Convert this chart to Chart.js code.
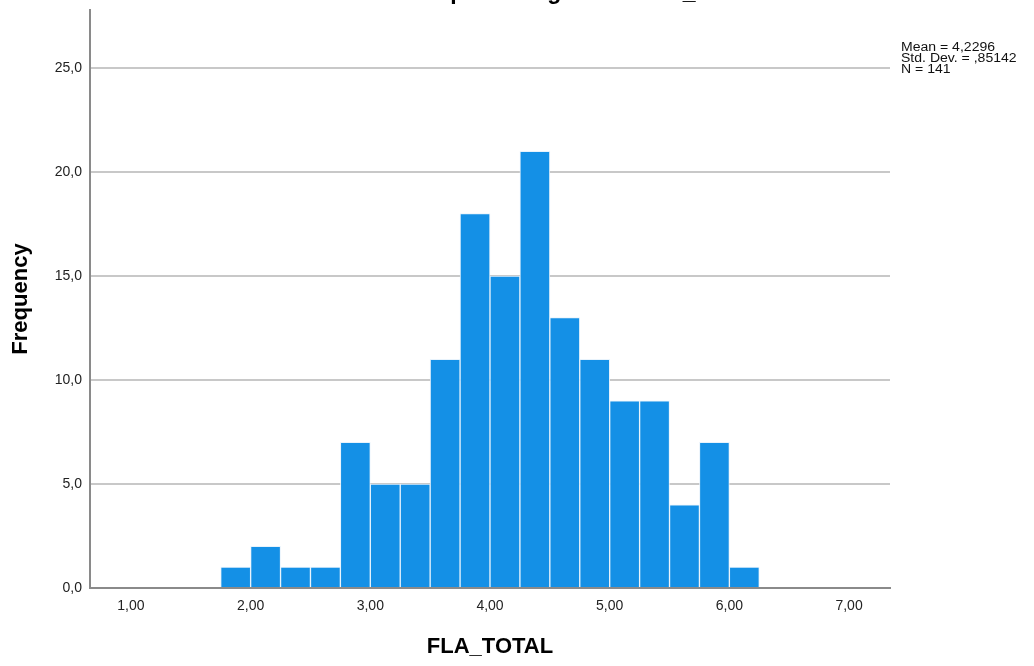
<!DOCTYPE html>
<html>
<head>
<meta charset="utf-8">
<script src="https://cdn.jsdelivr.net/npm/chart.js@4/dist/chart.umd.min.js"></script>
<style>
  html, body { margin: 0; padding: 0; background: #fff; }
  #wrap { width: 1034px; height: 666px; position: relative; }
</style>
</head>
<body>
<div id="wrap"><canvas id="hist"></canvas></div>
<script>
// Histogram of FLA_TOTAL, bins of width 0.25
const binCenters = [1.875, 2.125, 2.375, 2.625, 2.875, 3.125, 3.375, 3.625, 3.875,
                    4.125, 4.375, 4.625, 4.875, 5.125, 5.375, 5.625, 5.875, 6.125];
const frequencies = [1, 2, 1, 1, 7, 5, 5, 11, 18, 15, 21, 13, 11, 9, 9, 4, 7, 1];

const xTickValues = [1, 2, 3, 4, 5, 6, 7];
const xTickLabels = ['1,00', '2,00', '3,00', '4,00', '5,00', '6,00', '7,00'];
const yTickValues = [0, 5, 10, 15, 20, 25];
const yTickLabels = ['0,0', '5,0', '10,0', '15,0', '20,0', '25,0'];

const statsLines = ['Mean = 4,2296', 'Std. Dev. = ,85142', 'N = 141'];
const chartTitle = 'Simple Histogram of FLA_TOTAL';

const FONT = '"Liberation Sans", Arial, sans-serif';

// title sits mostly above the canvas, stats block at right
const extrasPlugin = {
  id: 'extras',
  afterDraw(chart) {
    const ctx = chart.ctx;
    ctx.save();
    ctx.fillStyle = '#000';
    ctx.font = 'bold 23px ' + FONT;
    ctx.textAlign = 'left';
    ctx.textBaseline = 'alphabetic';
    ctx.fillText(chartTitle, 408, -1);
    ctx.restore();

    // SPSS stats text is a bit wide for its height
    ctx.save();
    ctx.font = '12px ' + FONT;
    ctx.fillStyle = '#111';
    ctx.textAlign = 'left';
    ctx.textBaseline = 'middle';
    ctx.translate(901, 0);
    ctx.scale(1.17, 1);
    statsLines.forEach((line, i) => {
      ctx.fillText(line, 0, 47.5 + i * 11);
    });
    ctx.restore();
  }
};

const data = binCenters.map((x, i) => ({ x: x, y: frequencies[i] }));

new Chart(document.getElementById('hist'), {
  type: 'bar',
  data: {
    datasets: [{
      data: data,
      backgroundColor: '#1490e6',
      borderColor: 'rgba(230, 242, 252, 0.9)',
      borderWidth: 1,
      barPercentage: 1,
      categoryPercentage: 1
    }]
  },
  options: {
    responsive: true,
    maintainAspectRatio: false,
    animation: false,
    layout: { padding: { left: 0, top: 10, right: 144, bottom: 0 } },
    plugins: {
      legend: { display: false },
      tooltip: { enabled: false }
    },
    scales: {
      x: {
        type: 'linear',
        offset: false,
        min: 0.658,
        max: 7.342,
        afterBuildTicks: scale => {
          scale.ticks = xTickValues.map(v => ({ value: v }));
        },
        afterFit: scale => {
          scale.height = 78;
          scale.paddingLeft = 0;
          scale.paddingRight = 0;
        },
        ticks: {
          callback: (v, i) => xTickLabels[i],
          color: '#222',
          font: { family: FONT, size: 14 },
          padding: 10,
          maxRotation: 0
        },
        grid: { display: false, drawTicks: false },
        border: { display: true, color: '#8a8a8a', width: 2 },
        title: {
          display: true,
          text: 'FLA_TOTAL',
          color: '#000',
          font: { family: FONT, size: 22, weight: 'bold' },
          padding: { top: 0, bottom: 6 }
        }
      },
      y: {
        min: 0,
        max: 27.79,
        afterBuildTicks: scale => {
          scale.ticks = yTickValues.map(v => ({ value: v }));
        },
        afterFit: scale => {
          scale.width = 90;
          scale.paddingTop = 0;
          scale.paddingBottom = 0;
        },
        ticks: {
          callback: (v, i) => yTickLabels[i],
          color: '#222',
          font: { family: FONT, size: 14 },
          padding: 8
        },
        grid: {
          drawTicks: false,
          color: ctx => ctx.tick && ctx.tick.value === 0 ? 'rgba(0,0,0,0)' : '#c8c8c8',
          lineWidth: 2
        },
        border: { display: true, color: '#8a8a8a', width: 2 },
        title: {
          display: true,
          text: 'Frequency',
          color: '#000',
          font: { family: FONT, size: 22, weight: 'bold' },
          padding: { top: 8, bottom: 0 }
        }
      }
    }
  },
  plugins: [extrasPlugin]
});
</script>
</body>
</html>
